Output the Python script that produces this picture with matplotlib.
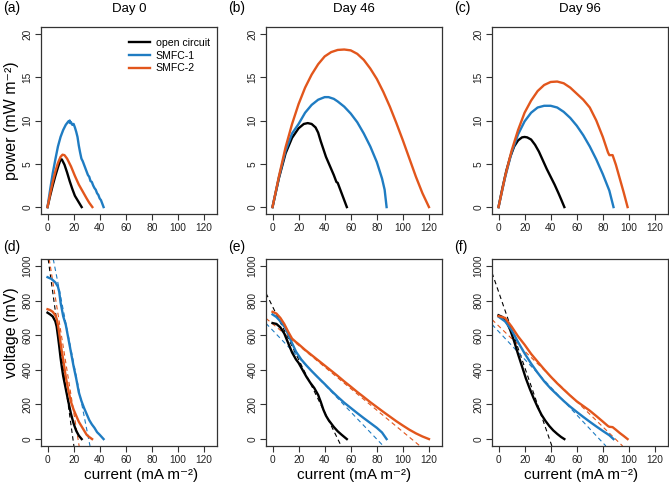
import matplotlib
matplotlib.use('Agg')
import matplotlib.pyplot as plt

plt.rcParams['font.family'] = ['Liberation Sans', 'DejaVu Sans']

days = ['Day 0', 'Day 46', 'Day 96']
tags_top = ['(a)', '(b)', '(c)']
tags_bot = ['(d)', '(e)', '(f)']
names = ['open circuit', 'SMFC-1', 'SMFC-2']
colors = ['black', '#1f7cc2', '#e2561c']

# ---- power curves: current (mA m-2) vs power (mW m-2)
# Day 0
p0_oc_i = [0, 2, 4, 6, 8, 10, 11, 13, 15, 17, 19, 21, 23, 25, 26.2]
p0_oc_p = [0, 1.3, 2.5, 3.6, 4.6, 5.5, 5.5, 4.9, 4.0, 3.0, 2.1, 1.3, 0.8, 0.3, 0]
p0_s1_i = [0, 2, 4, 6, 8, 10, 12, 14, 15, 16, 16.5, 17, 17.5, 18, 19, 20, 21, 22,
           23, 24, 25, 26, 27, 28, 29, 30, 31, 32, 33, 34, 35, 36, 37, 38, 39, 40, 41, 42, 43]
p0_s1_p = [0, 2.0, 3.9, 5.5, 7.0, 8.1, 8.9, 9.5, 9.7, 9.9, 9.8, 10.0, 9.7, 9.8, 9.5, 9.6, 9.2, 8.7,
           8.1, 7.1, 6.3, 5.6, 5.3, 4.9, 4.5, 4.1, 3.7, 3.5, 3.0, 2.9, 2.5, 2.2, 2.0, 1.6, 1.4, 1.0, 0.8, 0.4, 0]
p0_s2_i = [0, 2, 4, 6, 8, 10, 11.5, 13, 15, 18, 21, 24, 27, 30, 32, 34.4]
p0_s2_p = [0, 1.5, 2.9, 4.1, 5.1, 5.8, 6.05, 6.0, 5.6, 4.7, 3.6, 2.6, 1.8, 1.0, 0.5, 0]
# Day 46
p46_oc_i = [0, 5, 10, 15, 20, 24, 27, 30, 33, 35, 37, 39, 41, 43, 45, 47, 49, 50, 51, 53, 55, 57]
p46_oc_p = [0, 3.4, 6.2, 8.0, 9.1, 9.6, 9.7, 9.6, 9.2, 8.6, 7.6, 6.7, 5.8, 5.1, 4.4, 3.7, 2.9, 2.8, 2.4, 1.6, 0.8, 0]
p46_s1_i = [0, 5, 10, 15, 20, 25, 30, 35, 40, 43, 47, 50, 55, 60, 65, 70, 75, 80, 84, 86, 87.5]
p46_s1_p = [0, 3.5, 6.5, 8.5, 9.6, 10.9, 11.8, 12.4, 12.7, 12.7, 12.5, 12.2, 11.6, 10.8, 9.8, 8.5, 7.0, 5.2, 3.3, 2.0, 0]
p46_s2_i = [0, 5, 10, 15, 20, 25, 30, 35, 40, 45, 50, 55, 60, 65, 70, 75, 80, 85, 90, 95, 100, 105, 110, 115, 120]
p46_s2_p = [0, 3.6, 6.9, 9.6, 11.9, 13.8, 15.3, 16.5, 17.4, 17.9, 18.15, 18.2, 18.1, 17.7, 17.0, 16.0,
            14.8, 13.3, 11.6, 9.7, 7.7, 5.6, 3.5, 1.6, 0]
# Day 96
p96_oc_i = [0, 3, 6, 9, 12, 15, 18, 20, 22, 25, 28, 31, 34, 37, 40, 43, 46, 48, 50.5]
p96_oc_p = [0, 2.2, 4.2, 5.8, 7.0, 7.7, 8.05, 8.1, 8.05, 7.8, 7.2, 6.4, 5.4, 4.4, 3.5, 2.6, 1.6, 0.9, 0]
p96_s1_i = [0, 5, 10, 15, 20, 25, 30, 35, 40, 45, 50, 55, 60, 65, 70, 75, 80, 85, 88.2]
p96_s1_p = [0, 3.4, 6.3, 8.4, 9.9, 10.9, 11.5, 11.7, 11.7, 11.5, 11.0, 10.3, 9.4, 8.3, 7.0, 5.5, 3.8, 1.9, 0]
p96_s2_i = [0, 5, 10, 15, 20, 25, 30, 35, 40, 45, 50, 55, 60, 65, 70, 75, 80, 84, 85, 87.5, 90, 93, 96, 99]
p96_s2_p = [0, 3.5, 6.5, 8.9, 10.9, 12.3, 13.4, 14.1, 14.45, 14.5, 14.3, 13.8, 13.1, 12.4, 11.5, 10.0,
            8.1, 6.3, 6.0, 6.0, 4.9, 3.3, 1.7, 0]

# ---- polarisation curves: current (mA m-2) vs voltage (mV)
v0_oc_i = [0, 2, 4, 6, 7, 8, 9, 10, 11, 12, 14, 16, 18, 20, 22, 24, 26.2]
v0_oc_v = [730, 720, 708, 680, 650, 595, 535, 470, 415, 365, 290, 215, 145, 90, 48, 20, 0]
v0_s1_i = [0, 3, 6, 8, 9, 10, 12, 14, 16, 18, 20, 22, 24, 26, 28, 30, 32, 34, 36, 38, 40, 43]
v0_s1_v = [935, 925, 905, 880, 850, 790, 710, 660, 580, 500, 420, 350, 270, 220, 180, 145, 110, 85, 65, 40, 25, 0]
v0_s2_i = [0, 2, 4, 6, 7, 8, 9, 10, 11, 12, 14, 16, 18, 20, 22, 24, 26, 28, 30, 32, 34.2]
v0_s2_v = [750, 745, 735, 715, 695, 660, 610, 555, 505, 460, 360, 280, 215, 170, 135, 100, 75, 50, 25, 12, 0]

v46_oc_i = [0, 3, 6, 9, 12, 15, 18, 20, 23, 26, 29, 32, 35, 37, 39, 41, 43, 45, 47, 50, 53, 57]
v46_oc_v = [670, 665, 645, 610, 555, 500, 460, 440, 400, 360, 325, 295, 255, 215, 170, 135, 110, 90, 70, 45, 25, 0]
v46_s1_i = [0, 3, 6, 10, 14, 18, 22, 26, 30, 35, 40, 45, 50, 55, 60, 65, 70, 75, 80, 84, 87.5]
v46_s1_v = [720, 705, 680, 640, 570, 505, 460, 425, 393, 355, 318, 280, 244, 210, 180, 150, 121, 93, 65, 38, 0]
v46_s2_i = [0, 3, 6, 9, 12, 15, 18, 20, 25, 30, 35, 40, 45, 50, 55, 60, 65, 70, 75, 80, 85, 90, 95,
            100, 105, 110, 115, 120]
v46_s2_v = [735, 725, 700, 665, 620, 580, 560, 548, 515, 485, 455, 425, 395, 365, 333, 303, 272, 243,
            213, 185, 157, 130, 103, 78, 54, 33, 15, 0]

v96_oc_i = [0, 3, 6, 9, 12, 15, 18, 21, 24, 27, 30, 33, 36, 39, 42, 45, 48, 50.5]
v96_oc_v = [715, 705, 680, 630, 565, 490, 420, 350, 290, 235, 185, 140, 105, 75, 50, 30, 12, 0]
v96_s1_i = [0, 5, 10, 15, 20, 25, 30, 35, 40, 45, 50, 55, 60, 65, 70, 75, 80, 85, 88.2]
v96_s1_v = [707, 680, 630, 560, 495, 436, 383, 334, 292, 256, 220, 187, 157, 128, 100, 73, 47, 22, 0]
v96_s2_i = [0, 5, 10, 15, 20, 25, 30, 35, 40, 45, 50, 55, 60, 65, 70, 75, 80, 84, 85, 87.5, 90, 93, 96, 99]
v96_s2_v = [710, 700, 650, 593, 545, 492, 447, 403, 361, 322, 286, 251, 218, 191, 164, 133, 101, 75,
            71, 69, 54, 35, 18, 0]

# ---- linear fits (dashed): intercept (mV) and slope (mV per mA m-2)
fit0_b = [1067, 1208, 1100]
fit0_m = [-54.7, -38.3, -47.0]
fit46_b = [766, 629, 666]
fit46_m = [-15.3, -7.87, -6.24]
fit96_b = [852, 622, 654]
fit96_m = [-21.8, -8.04, -7.29]

pw_i = [[p0_oc_i, p0_s1_i, p0_s2_i], [p46_oc_i, p46_s1_i, p46_s2_i], [p96_oc_i, p96_s1_i, p96_s2_i]]
pw_p = [[p0_oc_p, p0_s1_p, p0_s2_p], [p46_oc_p, p46_s1_p, p46_s2_p], [p96_oc_p, p96_s1_p, p96_s2_p]]
vo_i = [[v0_oc_i, v0_s1_i, v0_s2_i], [v46_oc_i, v46_s1_i, v46_s2_i], [v96_oc_i, v96_s1_i, v96_s2_i]]
vo_v = [[v0_oc_v, v0_s1_v, v0_s2_v], [v46_oc_v, v46_s1_v, v46_s2_v], [v96_oc_v, v96_s1_v, v96_s2_v]]
fit_b = [fit0_b, fit46_b, fit96_b]
fit_m = [fit0_m, fit46_m, fit96_m]

W, H = 669, 484
fig = plt.figure(figsize=(W / 100, H / 100), dpi=100)

lefts = [41, 266, 492]   # pixel positions of the plot boxes
aw = 176
tops = [27, 259]
ah = 187


def style(ax, yticks):
    for s in ax.spines.values():
        s.set_color('#333333')
        s.set_linewidth(0.9)
    ax.set_xlim(-5, 130)
    ax.set_xticks(range(0, 121, 20))
    ax.set_yticks(yticks)
    ax.tick_params(colors='#333333', labelcolor='#222222', labelsize=7.3, length=4, width=0.8)
    ax.tick_params(axis='x', pad=2.5)
    ax.tick_params(axis='y', pad=2)
    for lab in ax.get_yticklabels():
        lab.set_rotation(90)
        lab.set_va('center')


for k in range(3):
    # power
    ax = fig.add_axes([lefts[k] / W, 1 - (tops[0] + ah) / H, aw / W, ah / H])
    for j in range(3):
        ax.plot(pw_i[k][j], pw_p[k][j], color=colors[j], lw=1.7, label=names[j], solid_joinstyle='round')
    ax.set_ylim(-0.8, 20.8)
    style(ax, [0, 5, 10, 15, 20])
    ax.set_title(days[k], fontsize=9.5, pad=10.5)
    fig.text((lefts[k] - 38) / W, 1 - 8 / H, tags_top[k], fontsize=10, va='center', ha='left')
    if k == 0:
        ax.legend(loc='upper right', frameon=False, fontsize=7.6, handlelength=2.0, handletextpad=0.5,
                  labelspacing=0.25, borderaxespad=0.3, bbox_to_anchor=(1.0, 0.98))

    # voltage
    ax = fig.add_axes([lefts[k] / W, 1 - (tops[1] + ah) / H, aw / W, ah / H])
    for j in range(3):
        ax.axline((0, fit_b[k][j]), slope=fit_m[k][j], color=colors[j], lw=0.8, ls=(0, (4, 3)))
    for j in range(3):
        ax.plot(vo_i[k][j], vo_v[k][j], color=colors[j], lw=1.7, solid_joinstyle='round')
    ax.set_ylim(-40, 1040)
    style(ax, range(0, 1001, 200))
    fig.text((lefts[k] - 38) / W, 1 - 247 / H, tags_bot[k], fontsize=10, va='center', ha='left')

xl_centers = [141, 354, 581]
for k in range(3):
    fig.text(xl_centers[k] / W, 5 / H, 'current (mA m⁻²)', fontsize=11,
             ha='center', va='baseline')
fig.text(12 / W, 1 - 121 / H, 'power (mW m⁻²)', fontsize=11.5, rotation=90, ha='center', va='center')
fig.text(12 / W, 1 - 333 / H, 'voltage (mV)', fontsize=11.5, rotation=90, ha='center', va='center')

fig.savefig('out.png', dpi=100)
